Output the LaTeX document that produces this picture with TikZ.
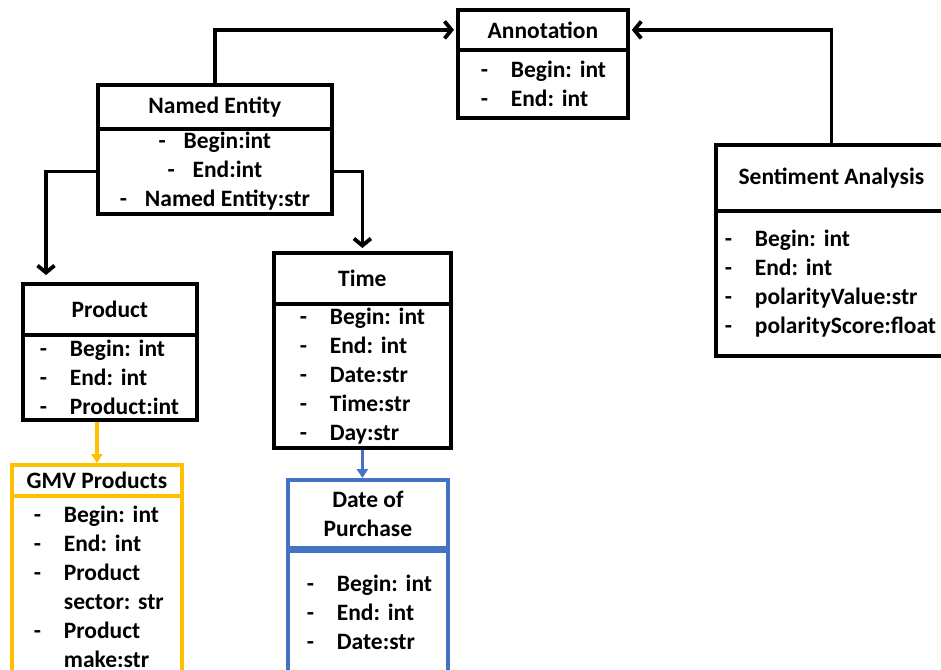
\documentclass[tikz,border=0pt]{standalone}
\usepackage{fontspec}
\setmainfont{Carlito}
\usetikzlibrary{arrows.meta}
\definecolor{gmvyellow}{HTML}{FFC000}
\definecolor{dateblue}{HTML}{4472C4}
\frenchspacing
\newcommand{\itm}[1]{\mbox{\makebox[30pt][l]{-}#1}}
\newcommand{\citm}[1]{\mbox{\makebox[25pt][l]{-}#1}}

\begin{document}
\begin{tikzpicture}[x=1pt,y=-1pt,
    box/.style={draw,line width=3.8pt,anchor=north west,inner sep=0pt,
      font=\fontsize{23.5}{29}\selectfont\bfseries},
    conn/.style={line width=3.8pt,-{Straight Barb[length=7pt,width=17pt]}},
    clink/.style={line width=3.4pt,-{Triangle[length=9pt,width=11pt]}}]
    \useasboundingbox (0,0) rectangle (941,669);

    \node[box,minimum width=170pt,minimum height=40pt] (annhead) at (456,8) {Annotation};
    \node[box,minimum height=68pt,inner xsep=23pt,text width=124pt,align=left] (annbody) at (456,48)
        {\itm{Begin: int}\\\itm{End: int}};

    \node[box,minimum width=234pt,minimum height=44pt] (nehead) at (96,83) {Named Entity};
    \node[box,minimum width=234pt,minimum height=85pt,align=center] (nebody) at (96,127)
        {\citm{Begin:int}\\\citm{End:int}\\\citm{Named Entity:str}};

    \node[box,minimum width=231pt,minimum height=66pt] (sahead) at (714,143) {Sentiment Analysis};
    \node[box,minimum height=145pt,inner xsep=9pt,text width=213pt,align=left] (sabody) at (714,209)
        {\itm{Begin: int}\\\itm{End: int}\\\itm{polarityValue:str}\\\itm{polarityScore:float}};

    \node[box,minimum width=174pt,minimum height=51pt] (prodhead) at (21,282) {Product};
    \node[box,minimum height=85pt,inner xsep=17pt,text width=140pt,align=left] (prodbody) at (21,333)
        {\itm{Begin: int}\\\itm{End: int}\\\itm{Product:int}};

    \node[box,minimum width=177pt,minimum height=51pt] (timehead) at (272,251) {Time};
    \node[box,minimum height=144pt,inner xsep=26pt,text width=125pt,align=left] (timebody) at (272,302)
        {\itm{Begin: int}\\\itm{End: int}\\\itm{Date:str}\\\itm{Time:str}\\\itm{Day:str}};

    \node[box,draw=gmvyellow,minimum width=170pt,minimum height=31pt] (gmvhead) at (10,463) {GMV Products};
    \node[box,draw=gmvyellow,minimum height=182pt,inner xsep=22pt,text width=126pt,align=left] (gmvbody) at (10,494)
        {\itm{Begin: int}\\\itm{End: int}\\\itm{Product}\\\mbox{\hspace*{30pt}sector: str}\\\itm{Product}\\\mbox{\hspace*{30pt}make:str}};

    \node[box,draw=dateblue,minimum width=160pt,minimum height=68pt,align=center] (datehead) at (286,478)
        {Date of\\Purchase};
    \node[box,draw=dateblue,minimum height=128pt,inner xsep=19pt,text width=122pt,align=left] (datebody) at (286,546)
        {\itm{Begin: int}\\\itm{End: int}\\\itm{Date:str}};
    \draw[dateblue,line width=6.5pt] (datehead.south west) -- (datehead.south east);

    \coordinate (prodin) at (46,275);
    \draw[conn,shorten >=2pt] (nehead.north) |- (annhead.west);
    \draw[conn,shorten >=2pt] (sahead.north) |- (annhead.east);
    \draw[conn] (nebody.west) -| (prodin);
    \draw[conn,shorten >=3pt] (nebody.east) -| (timehead.north);
    \draw[clink,gmvyellow] (gmvhead.north |- prodbody.south) -- (gmvhead.north);
    \draw[clink,dateblue] (timebody.south) -- (timebody.south |- datehead.north);
\end{tikzpicture}
\end{document}
